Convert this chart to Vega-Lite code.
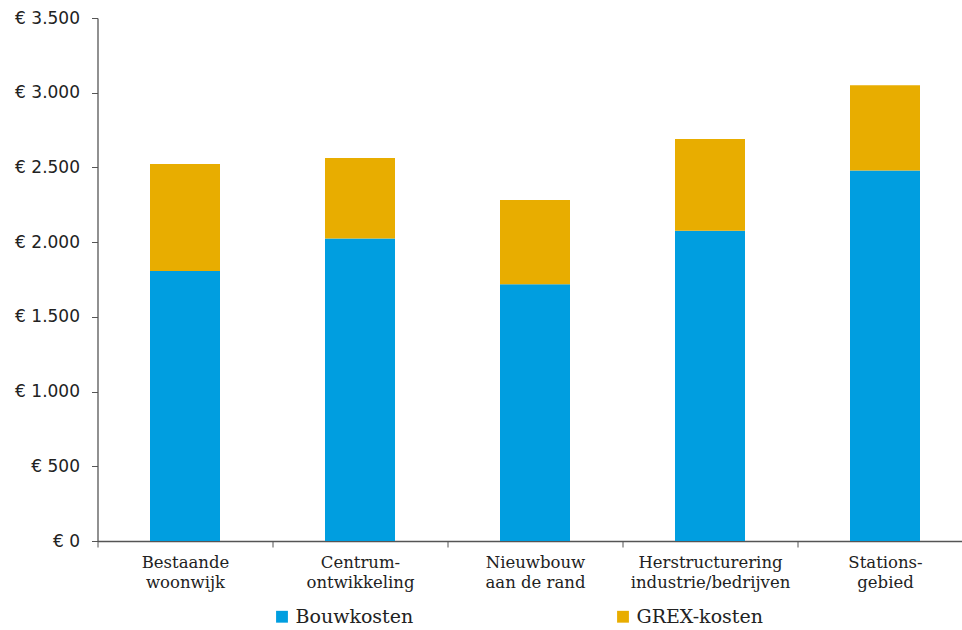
{
  "$schema": "https://vega.github.io/schema/vega-lite/v6.json",
  "autosize": "none",
  "width": 875,
  "height": 523,
  "padding": {"left": 97.5, "top": 18, "right": -10.5, "bottom": 89},
  "background": "white",
  "config": {"view": {"stroke": null}},
  "data": {
    "values": [
      {"gebied": "Bestaande|woonwijk", "kosten": "Bouwkosten", "bedrag": 1807},
      {"gebied": "Bestaande|woonwijk", "kosten": "GREX-kosten", "bedrag": 716},
      {"gebied": "Centrum-|ontwikkeling", "kosten": "Bouwkosten", "bedrag": 2025},
      {"gebied": "Centrum-|ontwikkeling", "kosten": "GREX-kosten", "bedrag": 538},
      {"gebied": "Nieuwbouw|aan de rand", "kosten": "Bouwkosten", "bedrag": 1718},
      {"gebied": "Nieuwbouw|aan de rand", "kosten": "GREX-kosten", "bedrag": 564},
      {"gebied": "Herstructurering|industrie/bedrijven", "kosten": "Bouwkosten", "bedrag": 2077},
      {"gebied": "Herstructurering|industrie/bedrijven", "kosten": "GREX-kosten", "bedrag": 614},
      {"gebied": "Stations-|gebied", "kosten": "Bouwkosten", "bedrag": 2479},
      {"gebied": "Stations-|gebied", "kosten": "GREX-kosten", "bedrag": 571}
    ]
  },
  "mark": {"type": "bar", "width": {"band": 0.4}},
  "encoding": {
    "x": {
      "field": "gebied",
      "type": "nominal",
      "sort": null,
      "scale": {"paddingInner": 0, "paddingOuter": 0},
      "axis": {
        "title": null,
        "labelAngle": 0,
        "labelExpr": "isValid(datum.value) ? split(datum.value, '|') : ''",
        "labelFont": "DejaVu Serif",
        "labelFontSize": 16.5,
        "labelLineHeight": 20,
        "labelColor": "#222",
        "labelPadding": 7,
        "tickBand": "extent",
        "tickSize": 6,
        "tickColor": "#555",
        "domainColor": "#555",
        "domainWidth": 1.3
      }
    },
    "y": {
      "field": "bedrag",
      "type": "quantitative",
      "stack": "zero",
      "scale": {"domain": [0, 3500]},
      "axis": {
        "title": null,
        "grid": false,
        "values": [0, 500, 1000, 1500, 2000, 2500, 3000, 3500],
        "labelExpr": "'€ ' + replace(format(datum.value, ','), ',', '.')",
        "labelFont": "DejaVu Sans",
        "labelFontSize": 17,
        "labelColor": "#222",
        "labelPadding": 12,
        "tickSize": 6,
        "tickColor": "#555",
        "domainColor": "#555",
        "domainWidth": 1.3
      }
    },
    "order": {"field": "kosten", "sort": "ascending"},
    "color": {
      "field": "kosten",
      "type": "nominal",
      "scale": {"domain": ["Bouwkosten", "GREX-kosten"], "range": ["#009EE0", "#E8AD00"]},
      "legend": {
        "title": null,
        "orient": "none",
        "direction": "horizontal",
        "legendX": 175,
        "legendY": 589,
        "symbolType": "square",
        "symbolSize": 140,
        "symbolStrokeWidth": 0,
        "labelFont": "DejaVu Serif",
        "labelFontSize": 19,
        "labelColor": "#222",
        "labelOffset": 4,
        "columnPadding": 200
      }
    }
  }
}
